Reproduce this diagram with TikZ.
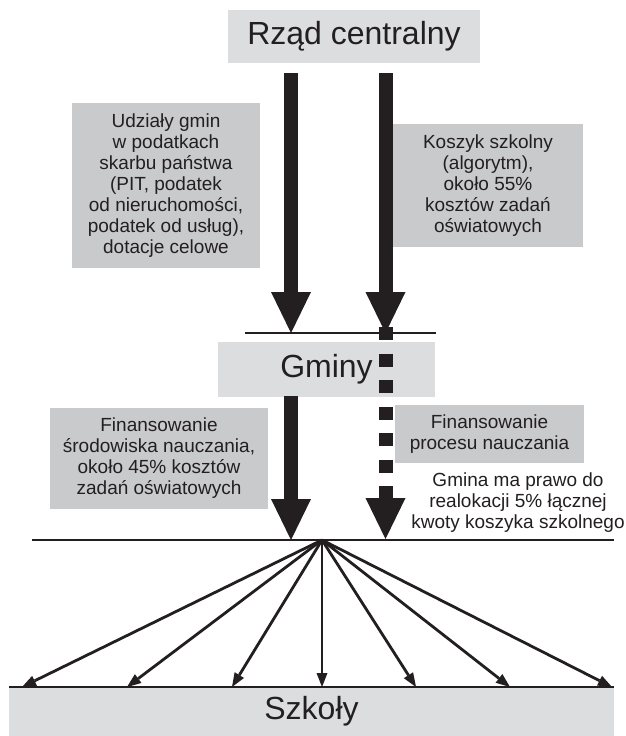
\documentclass[tikz,border=0pt]{standalone}
\usepackage{fontspec}
\setmainfont{Liberation Sans}
\usetikzlibrary{arrows.meta}
\definecolor{ink}{HTML}{231F20}
\definecolor{boxlight}{HTML}{DCDDDE}
\definecolor{boxmid}{HTML}{C9CACB}
\begin{document}
\begin{tikzpicture}[x=1pt,y=-1pt,
  level/.style={fill=boxlight, inner sep=0pt, text=ink,
    font=\fontsize{32}{36}\selectfont},
  note/.style={fill=boxmid, inner sep=0pt, text=ink, align=center,
    font=\fontsize{19}{21}\selectfont},
  plain/.style={inner sep=0pt, text=ink, align=center,
    font=\fontsize{19}{21}\selectfont},
  bigarrow/.style={draw=ink, line width=14pt,
    -{Triangle[length=41pt,width=40pt,line width=0pt]}},
  dasharrow/.style={bigarrow, dash pattern=on 13pt off 13.5pt},
  fanarrow/.style={draw=ink, line width=2.8pt,
    -{Triangle[length=14pt,width=11pt,line width=0pt]}},
  rule/.style={draw=ink, line width=2pt}]
  \useasboundingbox (0,0) rectangle (625,736);

  % levels of administration
  \node[level, minimum width=252pt, minimum height=53pt] (rzad) at (354,36.5) {Rząd centralny};
  \node[level, minimum width=217pt, minimum height=55pt] (gminy) at (326.5,369.5) {Gminy};
  \node[level, minimum width=605pt, minimum height=49pt] (szkoly) at (311.5,711.5) {Szkoły};

  % descriptions of money flows
  \node[note, minimum width=188pt, minimum height=165pt] (udzialy) at (166,185.5)
    {Udziały gmin\\w podatkach\\skarbu państwa\\(PIT, podatek\\od nieruchomości,\\podatek od usług),\\dotacje celowe};
  \node[note, minimum width=190pt, minimum height=123pt] (koszyk) at (488,185.5)
    {Koszyk szkolny\\(algorytm),\\około 55\%\\kosztów zadań\\oświatowych};
  \node[note, minimum width=218pt, minimum height=101pt] (srodowisko) at (159,458.5)
    {Finansowanie\\środowiska nauczania,\\około 45\% kosztów\\zadań oświatowych};
  \node[note, minimum width=189pt, minimum height=58pt] (proces) at (489.5,434)
    {Finansowanie\\procesu nauczania};
  \node[plain] (realokacja) at (518,502.5)
    {Gmina ma prawo do\\realokacji 5\% łącznej\\kwoty koszyka szkolnego};

  % end points of the flows
  \coordinate (l1s) at (291,73);
  \coordinate (l1e) at (291,333);
  \coordinate (r1s) at (385.5,73);
  \coordinate (r1e) at (385.5,333);
  \coordinate (l2s) at (291,396);
  \coordinate (l2e) at (291,540);
  \coordinate (r2s) at (385.5,327);
  \coordinate (r2e) at (385.5,539);
  \coordinate (apex) at (322,540);

  % horizontal rules
  \coordinate (g1) at (245,333);
  \coordinate (g2) at (436,333);
  \coordinate (s1) at (32,540);
  \coordinate (s2) at (614,540);
  \draw[rule] (g1) -- (g2);
  \draw[rule] (s1) -- (s2);
  \draw[rule] (szkoly.north west) -- (szkoly.north east);

  % flows from the central government and within communes
  \draw[bigarrow] (l1s) -- (l1e);
  \draw[bigarrow] (r1s) -- (r1e);
  \draw[bigarrow] (l2s) -- (l2e);
  \draw[dasharrow] (r2s) -- (r2e);

  % distribution to schools
  \foreach \x [count=\i] in {22,127,232,322,416,510,612} {
    \coordinate (t\i) at (\x,687);
    \draw[fanarrow] (apex) -- (t\i);
  }
\end{tikzpicture}
\end{document}
